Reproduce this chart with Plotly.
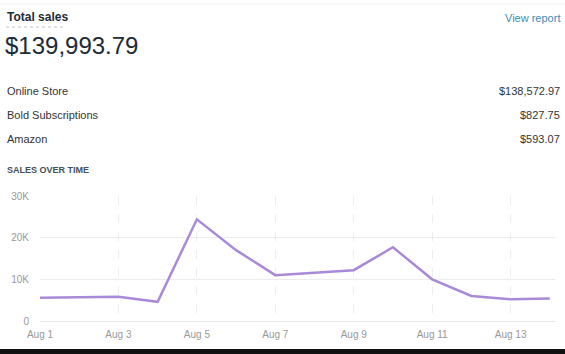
import plotly.graph_objects as go

dates = ["2019-08-01", "2019-08-02", "2019-08-03", "2019-08-04", "2019-08-05",
         "2019-08-06", "2019-08-07", "2019-08-08", "2019-08-09", "2019-08-10",
         "2019-08-11", "2019-08-12", "2019-08-13", "2019-08-14"]
sales = [5600, 5700, 5800, 4600, 24400, 17000, 11000, 11600, 12200, 17700,
         10000, 6000, 5200, 5400]

channels = ["Online Store", "Bold Subscriptions", "Amazon"]
channel_values = ["$138,572.97", "$827.75", "$593.07"]
total_label = "$139,993.79"

W, H = 565, 354
ML, MR, MT, MB = 40, 10, 196, 33
PW, PH = W - ML - MR, H - MT - MB
FONT = "Liberation Sans"

fig = go.Figure()
fig.add_trace(go.Scatter(
    x=dates, y=sales, mode="lines",
    line=dict(color="#a98ad8", width=2.5),
    hoverinfo="x+y", showlegend=False,
))

def px_x(x):
    return (x - ML) / PW

def px_y(y):
    return (H - MB - y) / PH

anns = []
anns.append(dict(x=px_x(5), y=px_y(17), text="<b>Total sales</b>", xanchor="left",
                 yanchor="middle", font=dict(size=12, color="#212b36", family=FONT)))
anns.append(dict(x=px_x(562), y=px_y(18), text="View report", xanchor="right",
                 yanchor="middle", font=dict(size=11, color="#3d8cb5", family=FONT)))
anns.append(dict(x=px_x(3), y=px_y(46), text=total_label, xanchor="left",
                 yanchor="middle", font=dict(size=24, color="#212b36", family=FONT)))
row_y = [91, 115, 139]
for name, val, yy in zip(channels, channel_values, row_y):
    anns.append(dict(x=px_x(5), y=px_y(yy), text=name, xanchor="left", yanchor="middle",
                     font=dict(size=11, color="#333333", family=FONT)))
    anns.append(dict(x=px_x(562), y=px_y(yy), text=val, xanchor="right", yanchor="middle",
                     font=dict(size=11, color="#333333", family=FONT)))
anns.append(dict(x=px_x(5), y=px_y(170), text="<b>SALES OVER TIME</b>", xanchor="left",
                 yanchor="middle", font=dict(size=9, color="#454f5b", family=FONT)))
for a in anns:
    a.update(xref="paper", yref="paper", showarrow=False)

shapes = [
    dict(type="line", xref="paper", yref="paper", x0=px_x(0), x1=px_x(W), y0=px_y(4), y1=px_y(4),
         line=dict(color="#f0f0f0", width=1)),
    dict(type="line", xref="paper", yref="paper", x0=px_x(6), x1=px_x(63),
         y0=px_y(27), y1=px_y(27), line=dict(color="#c4c4c4", width=1, dash="dot")),
    dict(type="rect", xref="paper", yref="paper", x0=px_x(0), x1=px_x(W), y0=px_y(H), y1=px_y(349),
         fillcolor="#111111", line=dict(width=0)),
]

fig.update_layout(
    width=W, height=H,
    margin=dict(l=ML, r=MR, t=MT, b=MB, pad=0),
    paper_bgcolor="white", plot_bgcolor="white",
    font=dict(family=FONT, size=10, color="#999999"),
    annotations=anns, shapes=shapes,
    xaxis=dict(
        type="date",
        range=["2019-08-01", "2019-08-14 03:10"],
        tick0="2019-08-01", dtick=2 * 86400000, tickformat="%b %-d",
        showgrid=True, gridcolor="#eeeeee", griddash="dash", gridwidth=1,
        zeroline=False, showline=False, ticks="", ticklabelstandoff=6,
        tickfont=dict(size=10, color="#999999", family=FONT),
        fixedrange=True,
    ),
    yaxis=dict(
        range=[0, 30000], tickvals=[0, 10000, 20000, 30000],
        ticktext=["0", "10K", "20K", "30K"],
        showgrid=True, gridcolor="#ececec", gridwidth=1,
        zeroline=True, zerolinecolor="#e6e6e6", zerolinewidth=1,
        showline=False, ticks="", ticklabelstandoff=10,
        tickfont=dict(size=10, color="#999999", family=FONT),
        fixedrange=True,
    ),
)

fig.write_html("out.html", config={"displayModeBar": False})
